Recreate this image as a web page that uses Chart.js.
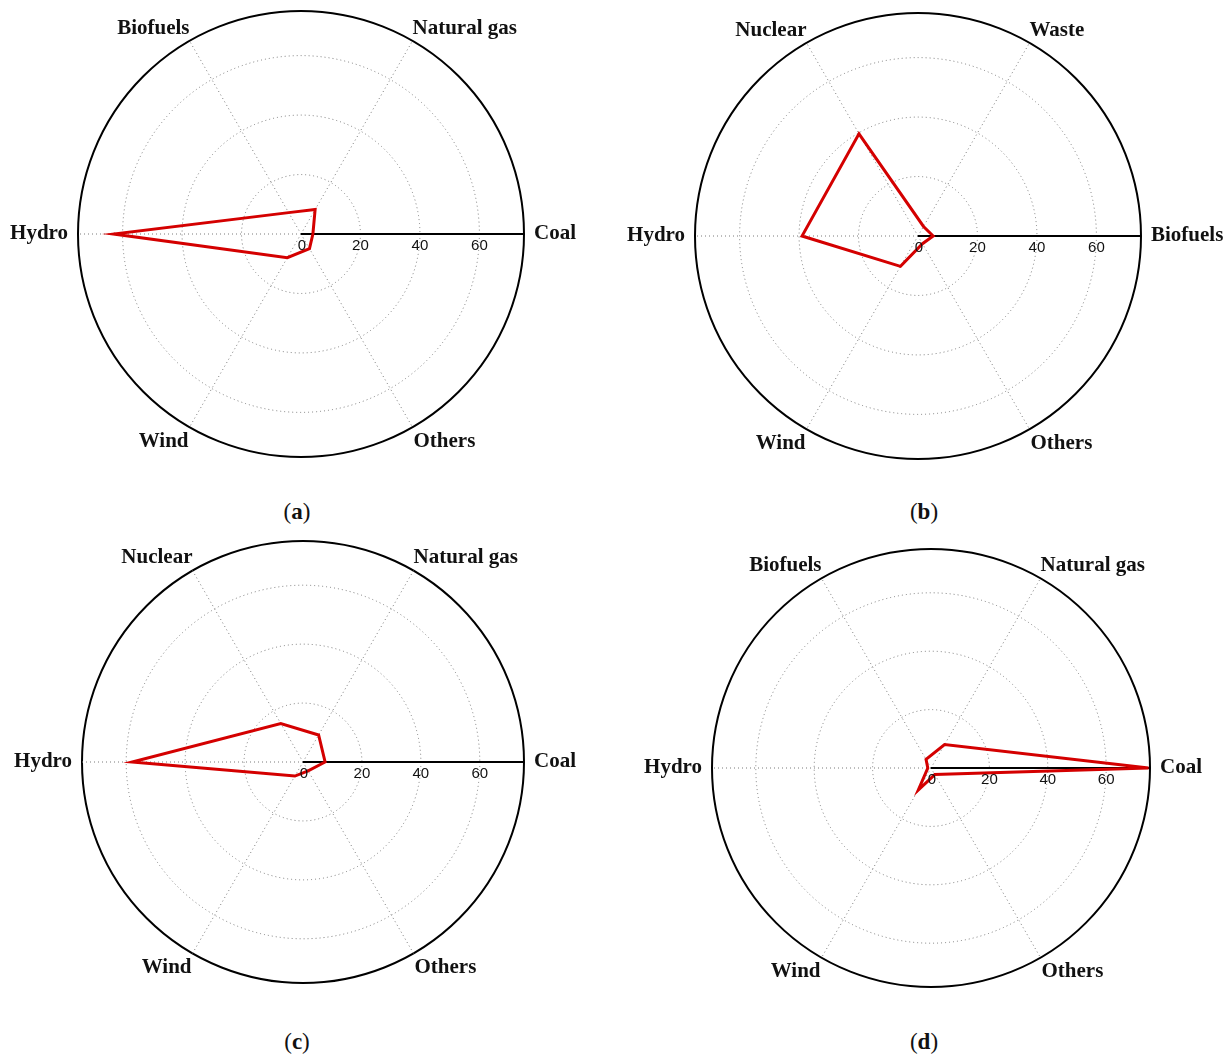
<!DOCTYPE html>
<html>
<head>
<meta charset="utf-8">
<script src="https://cdn.jsdelivr.net/npm/chart.js@4/dist/chart.umd.min.js"></script>
<style>
  body { margin: 0; background: #fff; }
  #wrap { position: relative; width: 1231px; height: 1056px; overflow: hidden; }
  canvas { position: absolute; }
  .cap {
    position: absolute;
    transform: translate(-50%, -50%);
    font-family: "Liberation Serif", "DejaVu Serif", serif;
    font-size: 23px;
    color: #111;
    white-space: nowrap;
  }
</style>
</head>
<body>
<div id="wrap">
  <canvas id="chartA" width="602" height="450" style="left:0px;top:9px"></canvas>
  <canvas id="chartB" width="620" height="450" style="left:608px;top:11px"></canvas>
  <canvas id="chartC" width="606" height="446" style="left:0px;top:539px"></canvas>
  <canvas id="chartD" width="600" height="442" style="left:631px;top:547px"></canvas>
  <div class="cap" style="left:297px;top:512px">(<b>a</b>)</div>
  <div class="cap" style="left:924px;top:512px">(<b>b</b>)</div>
  <div class="cap" style="left:297px;top:1042px">(<b>c</b>)</div>
  <div class="cap" style="left:924px;top:1042px">(<b>d</b>)</div>
</div>
<script>
// axes run clockwise from the right-hand spoke
const labelsA = ["Coal", "Others", "Wind", "Hydro", "Biofuels", "Natural gas"];
const valuesA = [4, 5.7, 9.2, 63, 8.3, 9.5];

const labelsB = ["Biofuels", "Others", "Wind", "Hydro", "Nuclear", "Waste"];
const valuesB = [5.1, 3, 11.8, 39, 39.7, 3.7];

const labelsC = ["Coal", "Others", "Wind", "Hydro", "Nuclear", "Natural gas"];
const valuesC = [7.5, 3.5, 5.5, 58, 15.1, 10.6];

const labelsD = ["Coal", "Others", "Wind", "Hydro", "Biofuels", "Natural gas"];
const valuesD = [74.5, 2.6, 8.7, 1.1, 3.4, 9.3];

const rMax = 75;
const ringValues = [0, 20, 40, 60, 75];
const tickLabels = [0, 20, 40, 60];

// tick numbers sit under the first (solid) spoke, upright
const tickLabelPlugin = {
    id: "tickLabels",
    afterDatasetsDraw(chart) {
        const s = chart.scales.r;
        const ctx = chart.ctx;
        ctx.save();
        ctx.font = "15px 'Liberation Sans', Arial, sans-serif";
        ctx.fillStyle = "#111";
        ctx.textAlign = "center";
        ctx.textBaseline = "middle";
        tickLabels.forEach(v => {
            const d = s.getDistanceFromCenterForValue(v);
            ctx.fillText(String(v), s.xCenter + d + (v === 0 ? 1 : 0), s.yCenter + 12);
        });
        ctx.restore();
    }
};

function makeRadar(id, labels, values) {
    new Chart(document.getElementById(id).getContext("2d"), {
        type: "radar",
        data: {
            labels: labels,
            datasets: [{
                data: values,
                borderColor: "#d40000",
                borderWidth: 3,
                fill: false,
                pointRadius: 0,
                pointHoverRadius: 0,
                tension: 0
            }]
        },
        options: {
            responsive: false,
            maintainAspectRatio: false,
            animation: false,
            events: [],
            layout: { padding: { top: 2, bottom: 2, left: 0, right: 0 } },
            plugins: {
                legend: { display: false },
                tooltip: { enabled: false }
            },
            scales: {
                r: {
                    min: 0,
                    max: rMax,
                    startAngle: 90,
                    afterBuildTicks: axis => {
                        axis.ticks = ringValues.map(v => ({ value: v }));
                    },
                    ticks: { display: false },
                    grid: {
                        circular: true,
                        color: c => (c.tick && c.tick.value >= rMax) ? "#000" : "#7a7a7a",
                        lineWidth: c => (c.tick && c.tick.value >= rMax) ? 2 : 1
                    },
                    border: {
                        dash: c => (c.tick && c.tick.value >= rMax) ? [] : [1, 3]
                    },
                    angleLines: {
                        color: c => c.index === 0 ? "#000" : "#7a7a7a",
                        lineWidth: c => c.index === 0 ? 2 : 1,
                        borderDash: c => c.index === 0 ? [] : [1, 3]
                    },
                    pointLabels: {
                        color: "#111",
                        font: { family: "'Liberation Serif', 'Times New Roman', serif", size: 21, weight: "bold" },
                        padding: c => (c.index === 0 || c.index === 3) ? 10 : (c.index === 1 || c.index === 2 ? 2 : 0)
                    }
                }
            }
        },
        plugins: [tickLabelPlugin]
    });
}

makeRadar("chartA", labelsA, valuesA);
makeRadar("chartB", labelsB, valuesB);
makeRadar("chartC", labelsC, valuesC);
makeRadar("chartD", labelsD, valuesD);
</script>
</body>
</html>
